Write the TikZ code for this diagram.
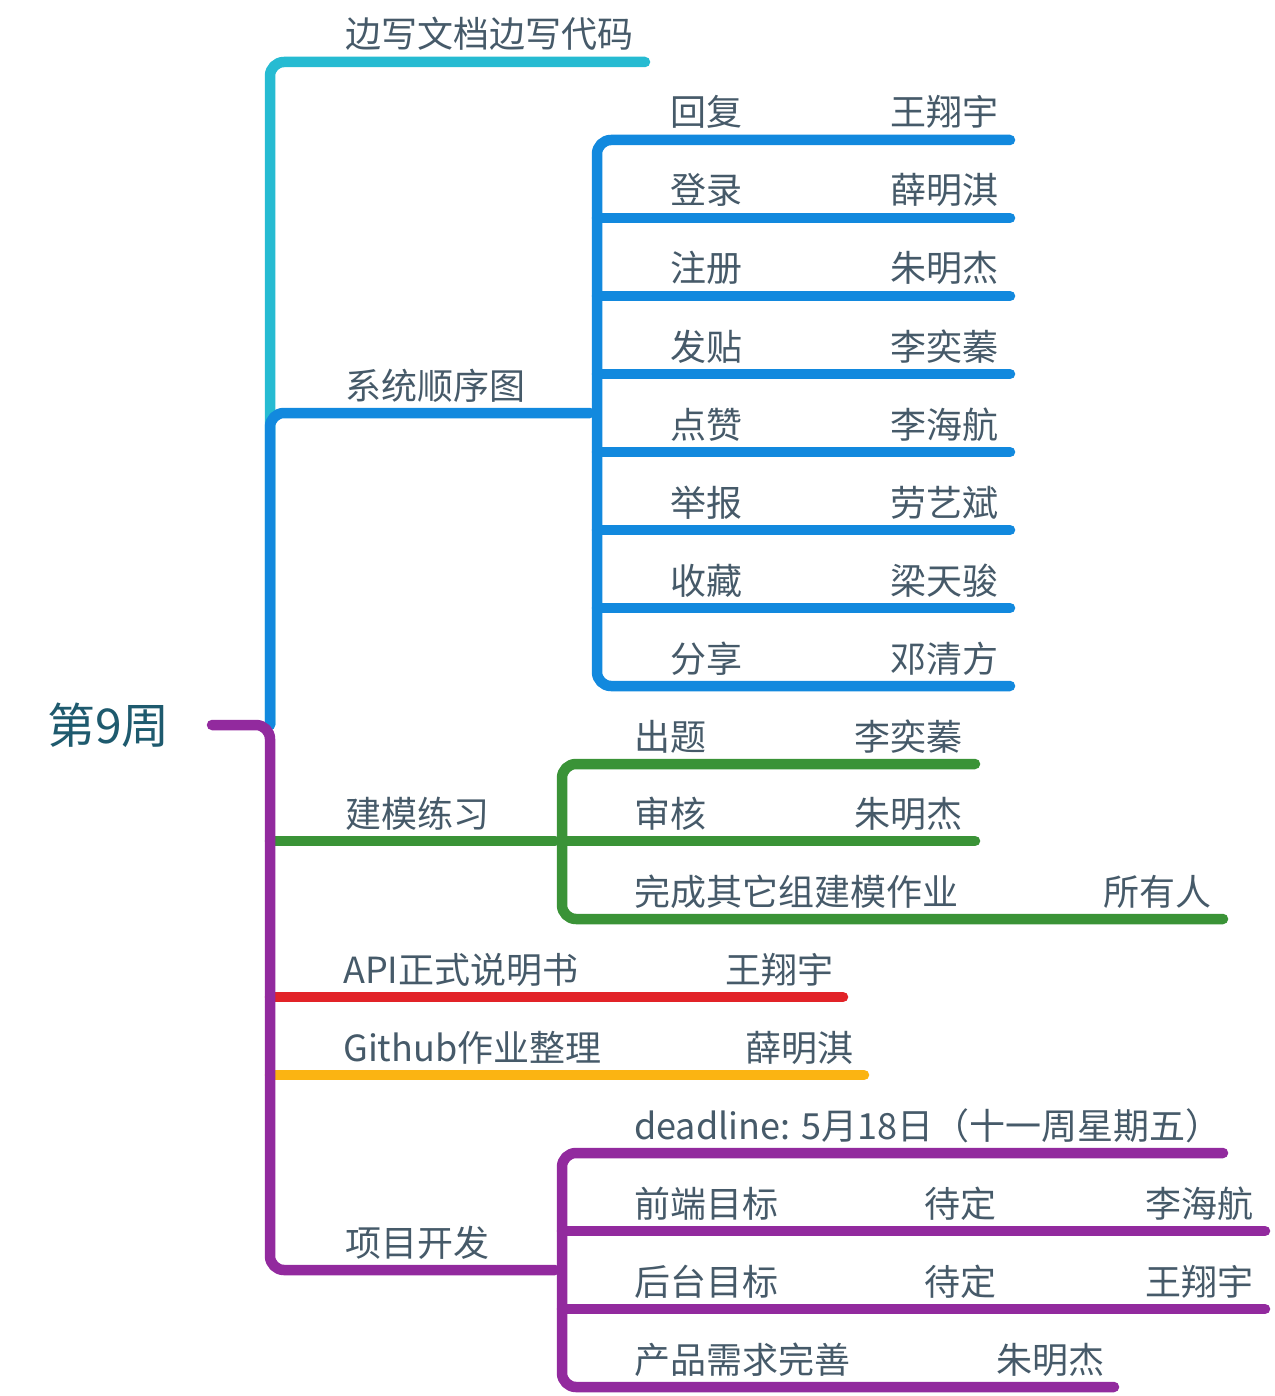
\documentclass[tikz,border=0pt]{standalone}
\usepackage{fontspec}
\setmainfont{Noto Sans CJK SC}
\definecolor{txt}{HTML}{465A69}
\definecolor{roottxt}{HTML}{1E5A6E}
\definecolor{ccyan}{HTML}{26BBD2}
\definecolor{cblue}{HTML}{1289DE}
\definecolor{cpurple}{HTML}{922A9E}
\definecolor{cgreen}{HTML}{3A9337}
\definecolor{cred}{HTML}{E22328}
\definecolor{corange}{HTML}{FBB412}
\begin{document}
\begin{tikzpicture}[x=1pt,y=-1pt,
  br/.style={line width=10.5pt, line cap=round, line join=round, rounded corners=14pt},
  lbl/.style={anchor=base west, inner sep=0pt, text=txt, font=\fontsize{36}{42}\selectfont}]
\useasboundingbox (0,0) rectangle (1274,1396);
% root
\node[anchor=base west, inner sep=0pt, text=roottxt, font=\fontsize{48}{56}\selectfont] (root) at (47,743) {第9周};
\coordinate (rootout) at (212,725);
\coordinate (J) at (270,725);
% end points
\coordinate (cyEnd) at (645,62);
\coordinate (sysEnd) at (590,413);
\coordinate (bx) at (597,413);
\foreach \i/\y in {1/140,2/218,3/296,4/374,5/452,6/530,7/608,8/686}
  \coordinate (b\i e) at (1010,\y);
\coordinate (gEnd) at (555,841);
\coordinate (gx) at (562,841);
\coordinate (g1e) at (975,764);
\coordinate (g2e) at (975,841);
\coordinate (g3e) at (1223,919);
\coordinate (rEnd) at (843,997);
\coordinate (oEnd) at (864,1075);
\coordinate (pEnd) at (555,1270);
\coordinate (px) at (562,1270);
\coordinate (p1e) at (1223,1153);
\coordinate (p2e) at (1265,1231);
\coordinate (p3e) at (1265,1309);
\coordinate (p4e) at (1114,1387);
% cyan branch
\draw[br, ccyan] (J) |- (cyEnd);
% blue branch
\draw[br, cblue] (J) |- (sysEnd);
\draw[br, cblue] (b1e) -| (bx) |- (b8e);
\foreach \i in {2,...,7} \draw[br, cblue] (bx |- b\i e) -- (b\i e);
% green branch
\draw[br, cgreen] (J |- gx) -- (gEnd);
\draw[br, cgreen] (g1e) -| (gx) |- (g3e);
\draw[br, cgreen] (gx) -- (g2e);
% red, orange
\draw[br, cred] (J |- rEnd) -- (rEnd);
\draw[br, corange] (J |- oEnd) -- (oEnd);
% purple branch
\draw[br, cpurple] (rootout) -- (J) |- (pEnd);
\draw[br, cpurple] (p1e) -| (px) |- (p4e);
\draw[br, cpurple] (px |- p2e) -- (p2e);
\draw[br, cpurple] (px |- p3e) -- (p3e);
% labels
\node[lbl] (cy) at (345,48) {边写文档边写代码};
\node[lbl] (sys) at (345,399) {系统顺序图};
\node[lbl] (b1l) at (670,126) {回复};   \node[lbl] (b1r) at (890,126) {王翔宇};
\node[lbl] (b2l) at (670,204) {登录};   \node[lbl] (b2r) at (890,204) {薛明淇};
\node[lbl] (b3l) at (670,282) {注册};   \node[lbl] (b3r) at (890,282) {朱明杰};
\node[lbl] (b4l) at (670,360) {发贴};   \node[lbl] (b4r) at (890,360) {李奕蓁};
\node[lbl] (b5l) at (670,438) {点赞};   \node[lbl] (b5r) at (890,438) {李海航};
\node[lbl] (b6l) at (670,516) {举报};   \node[lbl] (b6r) at (890,516) {劳艺斌};
\node[lbl] (b7l) at (670,594) {收藏};   \node[lbl] (b7r) at (890,594) {梁天骏};
\node[lbl] (b8l) at (670,672) {分享};   \node[lbl] (b8r) at (890,672) {邓清方};
\node[lbl] (gm) at (345,827) {建模练习};
\node[lbl] (g1l) at (634,750) {出题};   \node[lbl] (g1r) at (854,750) {李奕蓁};
\node[lbl] (g2l) at (634,827) {审核};   \node[lbl] (g2r) at (854,827) {朱明杰};
\node[lbl] (g3l) at (634,905) {完成其它组建模作业}; \node[lbl] (g3r) at (1103,905) {所有人};
\node[lbl] (rl) at (343,983) {API正式说明书}; \node[lbl] (rr) at (725,983) {王翔宇};
\node[lbl] (ol) at (343,1061) {Github作业整理}; \node[lbl] (or) at (745,1061) {薛明淇};
\node[lbl] (pm) at (345,1256) {项目开发};
\node[lbl] (p1l) at (634,1139) {deadline: 5月18日（十一周星期五）};
\node[lbl] (p2l) at (634,1217) {前端目标}; \node[lbl] (p2m) at (924,1217) {待定}; \node[lbl] (p2r) at (1145,1217) {李海航};
\node[lbl] (p3l) at (634,1295) {后台目标}; \node[lbl] (p3m) at (924,1295) {待定}; \node[lbl] (p3r) at (1145,1295) {王翔宇};
\node[lbl] (p4l) at (634,1373) {产品需求完善}; \node[lbl] (p4r) at (996,1373) {朱明杰};
\end{tikzpicture}
\end{document}
